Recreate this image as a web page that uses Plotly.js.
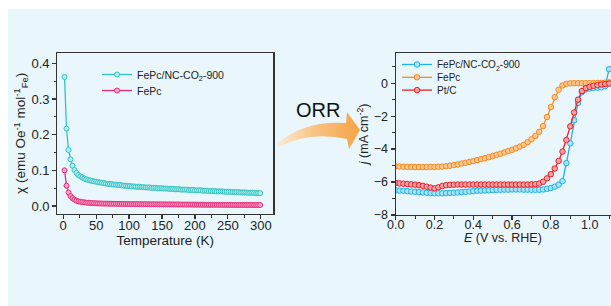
<!DOCTYPE html>
<html>
<head>
<meta charset="utf-8">
<script src="https://cdn.plot.ly/plotly-3.0.1.min.js"></script>
<style>html,body{margin:0;padding:0;background:#fff;overflow:hidden}#chart{width:611px;height:306px}</style>
</head>
<body>
<div id="chart"></div>
<script>
// ---- Left panel: susceptibility vs temperature ----
const temperatureK = [2,5,8,11,14,17,20,23,26,29,32,35,38,41,44,47,50,53,56,59,62,65,68,71,74,77,80,83,86,89,92,95,98,101,104,107,110,113,116,119,122,125,128,131,134,137,140,143,146,149,152,155,158,161,164,167,170,173,176,179,182,185,188,191,194,197,200,203,206,209,212,215,218,221,224,227,230,233,236,239,242,245,248,251,254,257,260,263,266,269,272,275,278,281,284,287,290,293,296,299];
const chiFePcNC = [0.362,0.217,0.157,0.131,0.113,0.101,0.093,0.087,0.083,0.080,0.077,0.075,0.073,0.072,0.070,0.069,0.068,0.067,0.066,0.065,0.064,0.063,0.062,0.062,0.061,0.060,0.060,0.059,0.059,0.058,0.057,0.057,0.056,0.056,0.055,0.055,0.054,0.054,0.054,0.053,0.053,0.052,0.052,0.052,0.051,0.051,0.051,0.050,0.050,0.050,0.049,0.049,0.049,0.048,0.048,0.048,0.047,0.047,0.047,0.046,0.046,0.046,0.046,0.045,0.045,0.045,0.044,0.044,0.044,0.044,0.043,0.043,0.043,0.042,0.042,0.042,0.042,0.041,0.041,0.041,0.041,0.040,0.040,0.040,0.040,0.039,0.039,0.039,0.039,0.038,0.038,0.038,0.038,0.037,0.037,0.037,0.037,0.036,0.036,0.036];
const chiFePc = [0.100,0.057,0.038,0.028,0.022,0.018,0.015,0.013,0.0120,0.0110,0.0102,0.0095,0.0090,0.0086,0.0082,0.0079,0.0076,0.0074,0.0072,0.0070,0.0068,0.0067,0.0066,0.0065,0.0064,0.0063,0.0062,0.0061,0.0060,0.0059,0.0058,0.0057,0.0056,0.0055,0.0054,0.0054,0.0053,0.0053,0.0052,0.0052,0.0051,0.0051,0.0050,0.0050,0.0049,0.0049,0.0048,0.0048,0.0047,0.0047,0.0046,0.0046,0.0045,0.0045,0.0044,0.0044,0.0043,0.0043,0.0042,0.0042,0.0041,0.0041,0.0040,0.0040,0.0039,0.0039,0.0038,0.0038,0.0037,0.0037,0.0036,0.0036,0.0035,0.0035,0.0035,0.0034,0.0034,0.0034,0.0033,0.0033,0.0033,0.0032,0.0032,0.0032,0.0031,0.0031,0.0031,0.0030,0.0030,0.0030,0.0030,0.0029,0.0029,0.0029,0.0029,0.0028,0.0028,0.0028,0.0028,0.0028];

// ---- Right panel: ORR polarization curves ----
const potentialE = [0.00,0.02,0.04,0.06,0.08,0.10,0.12,0.14,0.16,0.18,0.20,0.22,0.24,0.26,0.28,0.30,0.32,0.34,0.36,0.38,0.40,0.42,0.44,0.46,0.48,0.50,0.52,0.54,0.56,0.58,0.60,0.62,0.64,0.66,0.68,0.70,0.72,0.74,0.76,0.78,0.80,0.82,0.84,0.86,0.88,0.90,0.92,0.94,0.96,0.98,1.00,1.02,1.04,1.06,1.08,1.10];
const jFePcNC = [-6.50,-6.52,-6.53,-6.55,-6.57,-6.59,-6.61,-6.63,-6.65,-6.67,-6.68,-6.68,-6.68,-6.67,-6.66,-6.65,-6.63,-6.61,-6.59,-6.57,-6.55,-6.53,-6.52,-6.51,-6.50,-6.49,-6.48,-6.47,-6.46,-6.46,-6.45,-6.45,-6.45,-6.46,-6.46,-6.47,-6.47,-6.47,-6.45,-6.41,-6.36,-6.28,-6.16,-5.95,-4.85,-3.65,-2.25,-1.20,-0.55,-0.38,-0.32,-0.29,-0.27,-0.25,-0.18,0.85];
const jFePc = [-5.05,-5.06,-5.07,-5.08,-5.08,-5.09,-5.09,-5.09,-5.09,-5.08,-5.08,-5.07,-5.06,-5.04,-5.01,-4.97,-4.93,-4.88,-4.83,-4.78,-4.73,-4.67,-4.61,-4.55,-4.49,-4.42,-4.35,-4.28,-4.20,-4.12,-4.04,-3.95,-3.85,-3.74,-3.58,-3.40,-3.20,-2.95,-2.60,-2.05,-1.45,-0.85,-0.40,-0.14,-0.04,-0.01,0.00,0.00,0.00,0.00,0.00,0.01,0.01,0.02,0.03,0.05];
const jPtC = [-6.05,-6.08,-6.10,-6.12,-6.14,-6.16,-6.19,-6.23,-6.28,-6.34,-6.38,-6.32,-6.24,-6.19,-6.17,-6.16,-6.15,-6.15,-6.15,-6.15,-6.15,-6.15,-6.15,-6.15,-6.15,-6.15,-6.15,-6.15,-6.15,-6.15,-6.15,-6.15,-6.15,-6.15,-6.15,-6.14,-6.13,-6.09,-5.98,-5.78,-5.52,-5.18,-4.72,-4.15,-3.45,-2.62,-1.78,-1.00,-0.48,-0.30,-0.22,-0.16,-0.12,-0.08,-0.05,-0.02];

const W = 611, H = 306;
const px = x => x / W;
const py = y => 1 - y / H;
const FONT = 'Liberation Sans, Arial, sans-serif';

function series(x, y, name, lineColor, fillColor, xa, ya, leg, size) {
  return {
    x: x, y: y, name: name, type: 'scatter', mode: 'lines+markers',
    xaxis: xa, yaxis: ya, legend: leg,
    line: {color: lineColor, width: 1.3},
    marker: {symbol: 'circle', size: size, color: fillColor, line: {color: lineColor, width: 1}},
    cliponaxis: true
  };
}

const data = [
  series(temperatureK, chiFePcNC, 'FePc/NC-CO<sub>2</sub>-900', '#30c3c3', '#b8eeee', 'x', 'y', 'legend', 5),
  series(temperatureK, chiFePc, 'FePc', '#ea2a7c', '#f7a9c9', 'x', 'y', 'legend', 5),
  series(potentialE, jFePcNC, 'FePc/NC-CO<sub>2</sub>-900', '#1fb3e6', '#a8e2f6', 'x2', 'y2', 'legend2', 5.5),
  series(potentialE, jFePc, 'FePc', '#f7891f', '#fcc690', 'x2', 'y2', 'legend2', 5.5),
  series(potentialE, jPtC, 'Pt/C', '#e6222a', '#f4a0a2', 'x2', 'y2', 'legend2', 5.5)
];

const axisCommon = {
  showgrid: false, zeroline: false, showline: true, linecolor: '#333', linewidth: 1.2,
  ticks: 'outside', ticklen: 4, tickwidth: 1.2, tickcolor: '#333',
  tickfont: {family: FONT, size: 13, color: '#222'},
  automargin: false
};

// outline of the decorative ORR arrow, in pixel coordinates
const arrowPts = [
  ['M', 277, 144],
  ['Q', 304, 120, 346, 123],
  ['L', 347, 112],
  ['L', 360, 130],
  ['L', 349, 149],
  ['L', 347, 139],
  ['Q', 308, 131, 279, 147]
];
const arrowPath = arrowPts.map(p => {
  const nums = p.slice(1);
  const out = [];
  for (let i = 0; i < nums.length; i += 2) out.push(px(nums[i]).toFixed(5) + ',' + py(nums[i + 1]).toFixed(5));
  return p[0] + out.join(' ');
}).join(' ') + ' Z';

const layout = {
  width: W, height: H,
  margin: {l: 0, r: 0, t: 0, b: 0},
  paper_bgcolor: '#ffffff',
  plot_bgcolor: 'rgba(0,0,0,0)',
  font: {family: FONT, color: '#222'},
  showlegend: true,
  xaxis: Object.assign({}, axisCommon, {
    domain: [px(57.3), px(273.3)], anchor: 'y', range: [-9, 319],
    tick0: 0, dtick: 50, mirror: true, ticklabelstandoff: -5,
    minor: {dtick: 25, ticklen: 2.5, tickwidth: 1, tickcolor: '#333', ticks: 'outside'},
    title: {text: 'Temperature (K)', font: {family: FONT, size: 13.5, color: '#222'}, standoff: 1}
  }),
  yaxis: Object.assign({}, axisCommon, {
    domain: [py(214), py(52.7)], anchor: 'x', range: [-0.0224, 0.43],
    tick0: 0, dtick: 0.1, tickformat: '.1f', mirror: true,
    minor: {dtick: 0.05, ticklen: 2.5, tickwidth: 1, tickcolor: '#333', ticks: 'outside'},
    title: {text: 'χ (emu Oe<sup>-1</sup> mol<sup>-1</sup><sub>Fe</sub>)', font: {family: FONT, size: 13.5, color: '#222'}, standoff: 2}
  }),
  xaxis2: Object.assign({}, axisCommon, {
    domain: [px(395.7), 1], anchor: 'y2', range: [0, 1.11],
    tick0: 0, dtick: 0.2, tickformat: '.1f', mirror: true, ticklabelstandoff: -6,
    tickfont: {family: FONT, size: 12.5, color: '#222'},
    minor: {dtick: 0.1, ticklen: 2.5, tickwidth: 1, tickcolor: '#333', ticks: 'outside'}
  }),
  yaxis2: Object.assign({}, axisCommon, {
    domain: [py(215), py(52.7)], anchor: 'x2', range: [-8, 1.85],
    tick0: 0, dtick: 2,
    tickfont: {family: FONT, size: 12.5, color: '#222'},
    minor: {dtick: 1, ticklen: 2.5, tickwidth: 1, tickcolor: '#333', ticks: 'outside'},
    title: {text: '<i>j</i> (mA cm<sup>-2</sup>)', font: {family: FONT, size: 12.5, color: '#222'}, standoff: 2}
  }),
  legend: {
    x: px(97), y: py(60), xanchor: 'left', yanchor: 'top',
    bgcolor: 'rgba(0,0,0,0)', borderwidth: 0,
    font: {family: FONT, size: 10.5, color: '#222'}
  },
  legend2: {
    x: px(397), y: py(50), xanchor: 'left', yanchor: 'top',
    bgcolor: 'rgba(0,0,0,0)', borderwidth: 0,
    font: {family: FONT, size: 10, color: '#222'}
  },
  shapes: [
    {type: 'rect', xref: 'paper', yref: 'paper', x0: px(8), x1: 1, y0: 0, y1: py(9),
     fillcolor: '#e9f6fc', line: {width: 0}, layer: 'below'},
    {type: 'path', xref: 'paper', yref: 'paper', path: arrowPath,
     fillcolor: '#f5ad5c', line: {width: 0}, layer: 'above'}
  ],
  annotations: [
    {text: 'ORR', xref: 'paper', yref: 'paper', x: px(318), y: py(110),
     xanchor: 'center', yanchor: 'middle', showarrow: false,
     font: {family: FONT, size: 20, color: '#111'}},
    // x-axis title of the right panel
    {text: '<i>E</i> (V vs. RHE)', xref: 'paper', yref: 'paper', x: px(503.3), y: py(237.5),
     xanchor: 'center', yanchor: 'middle', showarrow: false,
     font: {family: FONT, size: 12.5, color: '#222'}}
  ]
};

// tighten legend row spacing to match the reference
function tightenLegend(cls, step) {
  const items = document.querySelectorAll('g.' + cls + ' g.traces');
  let first = null;
  items.forEach((g, i) => {
    const t = g.getAttribute('transform') || '';
    const m = t.match(/translate\(\s*([-\d.e]+)[ ,]+([-\d.e]+)\s*\)/);
    if (!m) return;
    const x = parseFloat(m[1]), y = parseFloat(m[2]);
    if (first === null) first = y;
    g.setAttribute('transform', 'translate(' + x + ',' + (first + i * step) + ')');
  });
}

// orange gradient for the ORR arrow
function arrowGradient() {
  const svg = document.querySelector('#chart svg.main-svg');
  if (!svg) return;
  const ns = 'http://www.w3.org/2000/svg';
  let defs = svg.querySelector('defs');
  if (!defs) { defs = document.createElementNS(ns, 'defs'); svg.insertBefore(defs, svg.firstChild); }
  const grad = document.createElementNS(ns, 'linearGradient');
  grad.setAttribute('id', 'orrArrowGrad');
  grad.setAttribute('x1', '0'); grad.setAttribute('y1', '0');
  grad.setAttribute('x2', '1'); grad.setAttribute('y2', '0');
  [['0', '#fdebd6'], ['0.45', '#f8c383'], ['1', '#f5a445']].forEach(s => {
    const st = document.createElementNS(ns, 'stop');
    st.setAttribute('offset', s[0]); st.setAttribute('stop-color', s[1]);
    grad.appendChild(st);
  });
  defs.appendChild(grad);
  document.querySelectorAll('#chart path').forEach(p => {
    const f = (p.style.fill || '').replace(/\s/g, '');
    if (f === 'rgb(245,173,92)') p.style.fill = 'url(#orrArrowGrad)';
  });
}

Plotly.newPlot('chart', data, layout, {displayModeBar: false, staticPlot: true}).then(() => {
  tightenLegend('legend', 16);
  tightenLegend('legend2', 12.8);
  arrowGradient();
});
</script>
</body>
</html>
